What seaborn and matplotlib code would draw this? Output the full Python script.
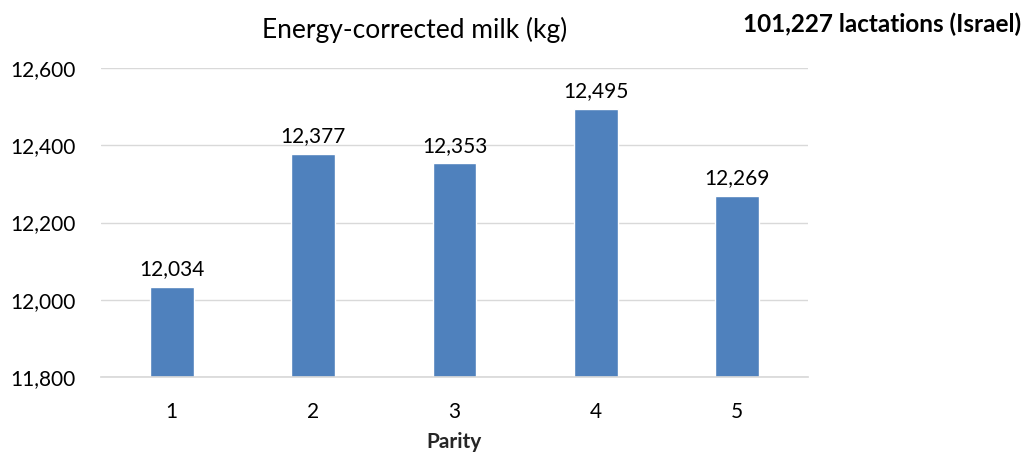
import matplotlib
matplotlib.use("Agg")
import matplotlib.pyplot as plt
import seaborn as sns
import pandas as pd
from matplotlib.ticker import FuncFormatter

parity = ["1", "2", "3", "4", "5"]
ecm_kg = [12034, 12377, 12353, 12495, 12269]
y_ticks = [11800, 12000, 12200, 12400, 12600]

df = pd.DataFrame({"Parity": parity, "ECM": ecm_kg})

sns.set_theme(style="white")
plt.rcParams["font.family"] = ["Lato", "DejaVu Sans"]

fig = plt.figure(figsize=(10.29, 4.53), dpi=100)
ax = fig.add_axes([101 / 1029, 1 - 377 / 453, (808 - 101) / 1029, (377 - 68) / 453])

sns.barplot(data=df, x="Parity", y="ECM", color="#4F81BD", width=0.31,
            saturation=1, ax=ax, zorder=3)

ax.set_ylim(11800, 12600)
ax.set_yticks(y_ticks)
ax.yaxis.set_major_formatter(FuncFormatter(lambda v, p: f"{int(v):,}"))
ax.grid(axis="y", color="#D9D9D9", linewidth=1, zorder=0)
for s in ["top", "right", "left"]:
    ax.spines[s].set_visible(False)
ax.spines["bottom"].set_color("#D9D9D9")
ax.spines["bottom"].set_zorder(4)
ax.tick_params(axis="both", length=0, labelsize=15, colors="#000000")
ax.tick_params(axis="y", pad=18)
ax.tick_params(axis="x", pad=18)

for i, v in enumerate(ecm_kg):
    ax.text(i, v + 20, f"{v:,}", ha="center", va="bottom", fontsize=15, color="#000000")

ax.set_xlabel("Parity", fontsize=15, fontweight="bold", labelpad=7)
ax.set_ylabel("")
fig.text(415 / 1029, 1 - 30 / 453, "Energy-corrected milk (kg)", ha="center", va="center",
         fontsize=19, color="#000000")
fig.text(1021 / 1029, 1 - 24 / 453, "101,227 lactations (Israel)", ha="right", va="center",
         fontsize=17.5, fontweight="bold", color="#000000")

fig.savefig("out.png", dpi=100)
